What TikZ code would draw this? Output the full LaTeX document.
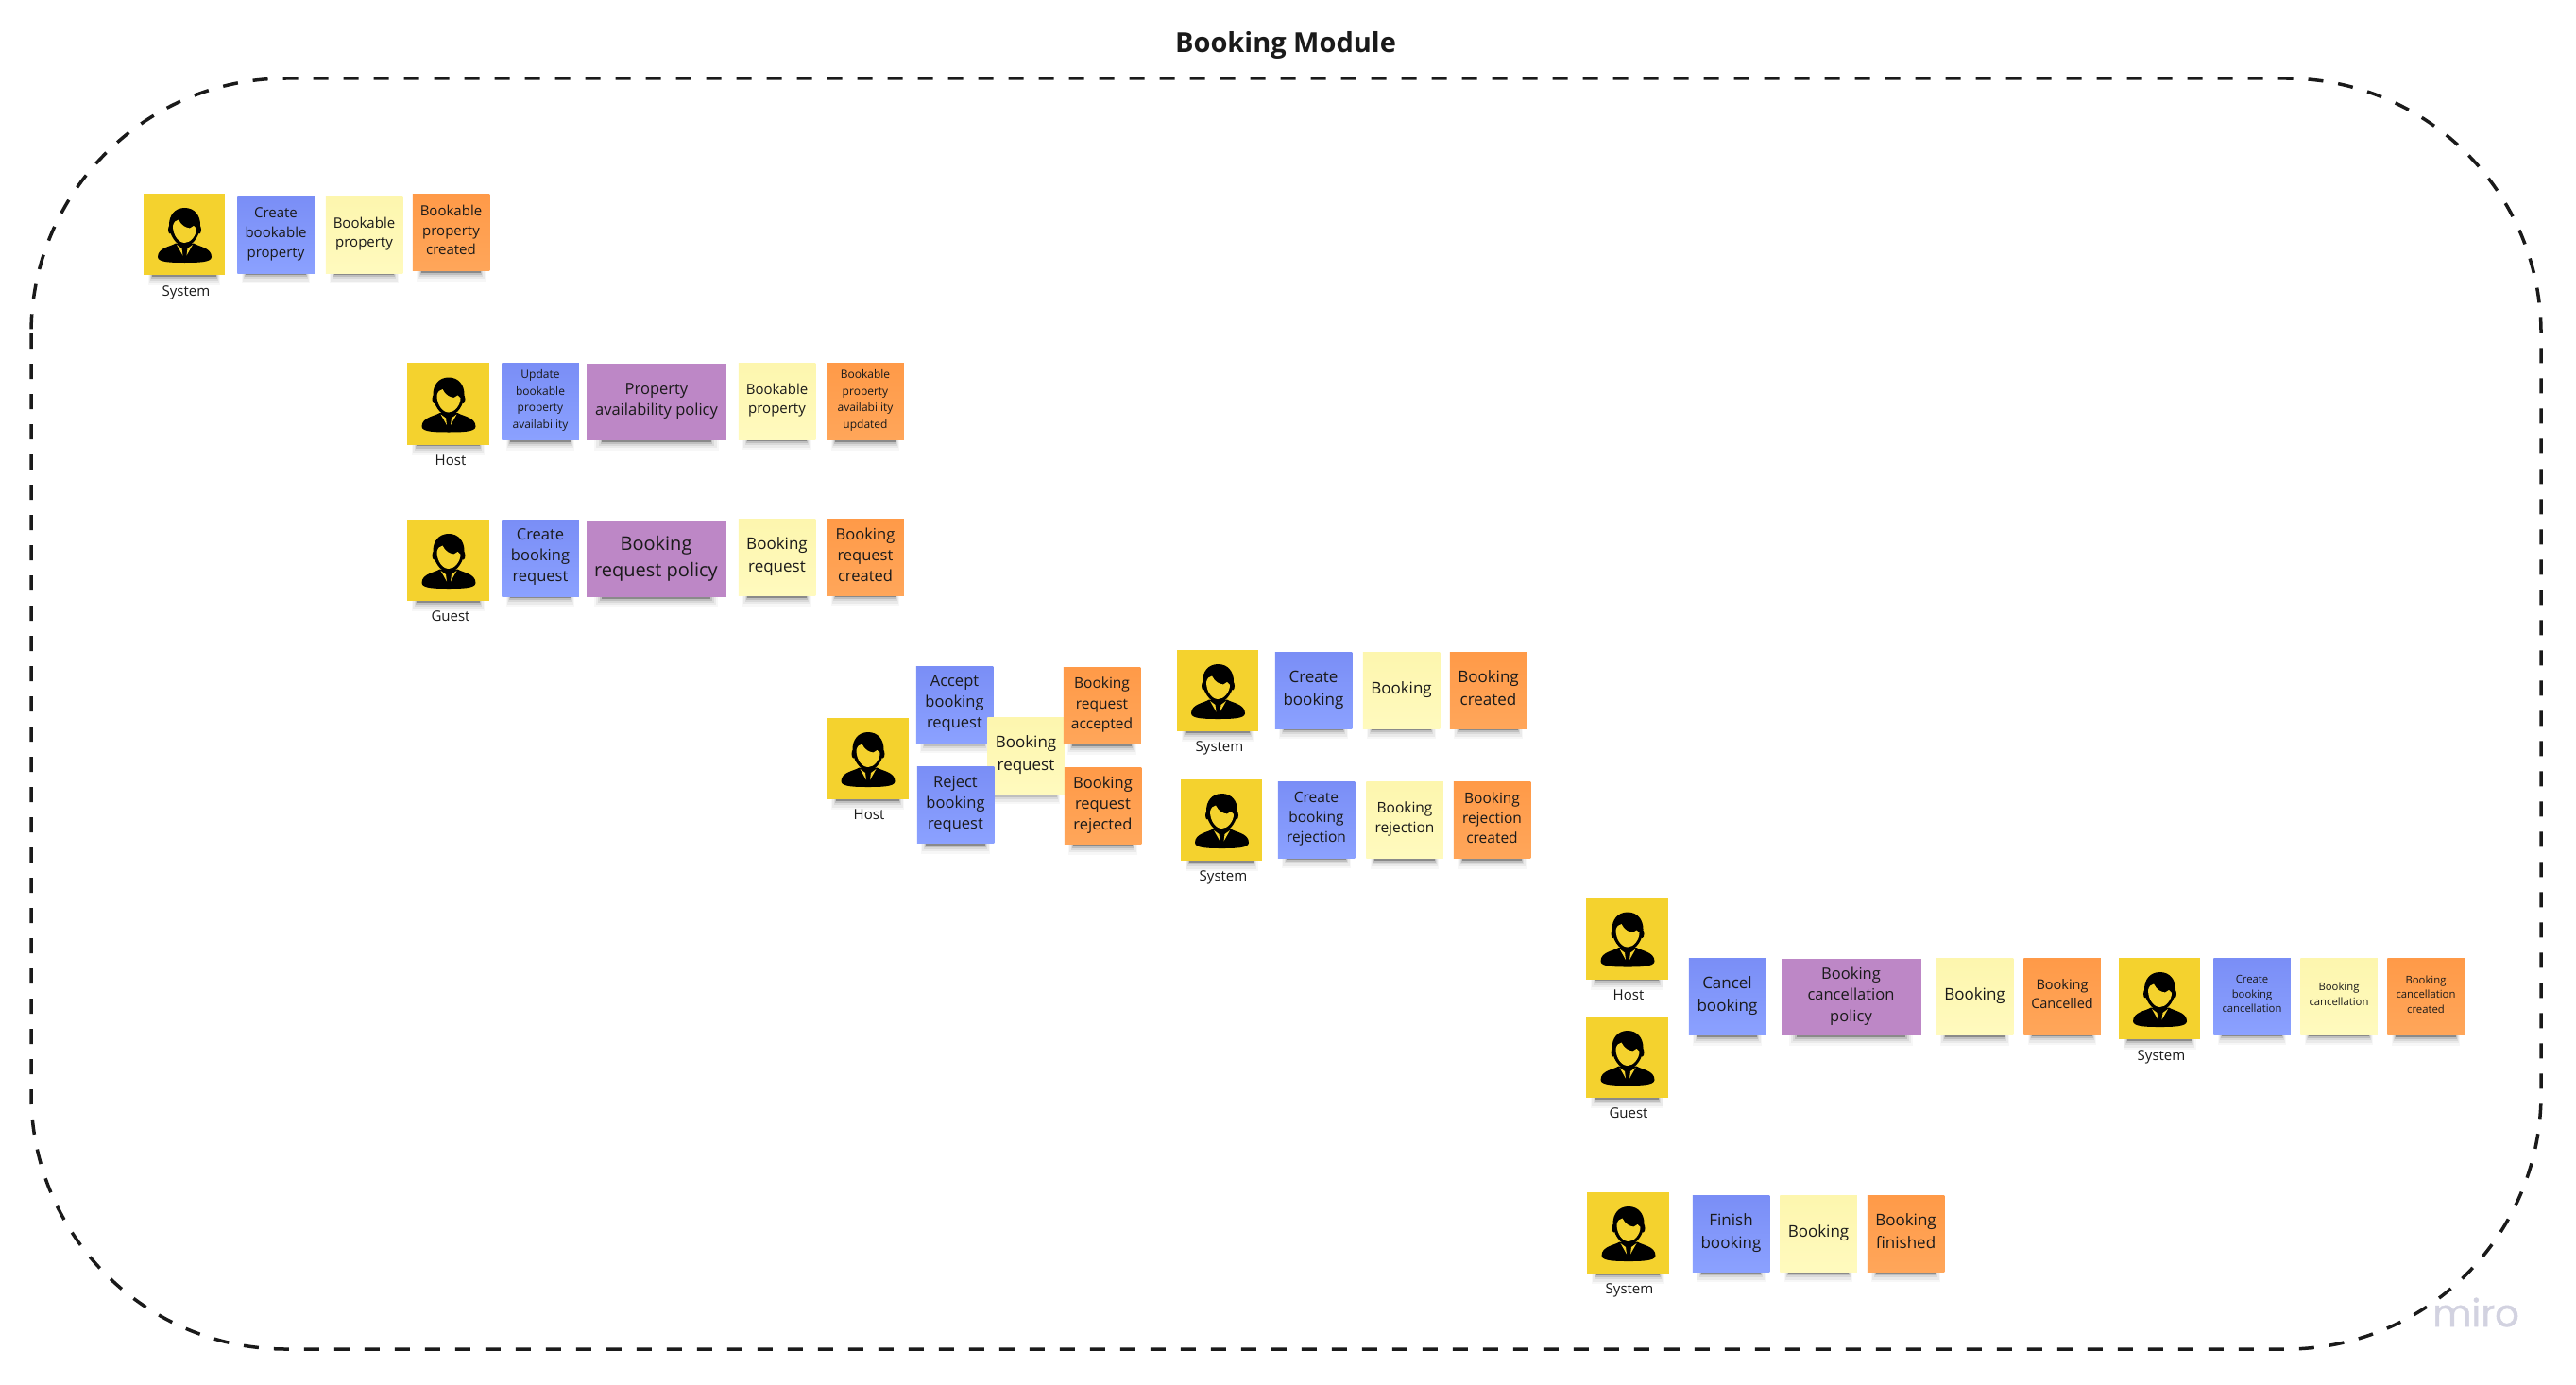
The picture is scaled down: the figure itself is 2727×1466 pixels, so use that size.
\documentclass[tikz,border=0pt]{standalone}
\usepackage{fontspec}
\setmainfont{Open Sans}
\newfontfamily\mirofont[FakeBold=1.2]{Poppins}
\usetikzlibrary{shadows}
\definecolor{actorcol}{HTML}{F4D22E}
\definecolor{cmdtop}{HTML}{7A8EF6}
\definecolor{cmdbot}{HTML}{8BA1FF}
\definecolor{aggtop}{HTML}{FDF6AE}
\definecolor{aggbot}{HTML}{FFFABE}
\definecolor{evttop}{HTML}{FF9A48}
\definecolor{evtbot}{HTML}{FFA65A}
\definecolor{polcol}{HTML}{BD87C6}
\definecolor{inkcol}{HTML}{1A1A1A}
\definecolor{mirocol}{HTML}{D2D2E0}
\tikzset{
  fs/.style 2 args={font=\fontsize{#1}{#2}\selectfont},
  note/.style={align=center,inner sep=0pt,text=inkcol,text depth=5pt,minimum width=81.5pt,minimum height=81pt,
    general shadow={fill=black,opacity=.03,shadow scale=.89,shadow yshift=-17.5pt},
    general shadow={fill=black,opacity=.05,shadow scale=.86,shadow yshift=-16.7pt},
    general shadow={fill=black,opacity=.07,shadow scale=.83,shadow yshift=-15.9pt},
    general shadow={fill=black,opacity=.12,shadow scale=.80,shadow yshift=-15.6pt},
    general shadow={fill=black,opacity=.28,shadow scale=.78,shadow yshift=-14.4pt}},
  actornote/.style={note,fill=actorcol,minimum width=86.5pt,minimum height=86.5pt},
  cmdnote/.style={note,top color=cmdtop,bottom color=cmdbot},
  aggnote/.style={note,top color=aggtop,bottom color=aggbot},
  evtnote/.style={note,top color=evttop,bottom color=evtbot},
  polnote/.style={note,fill=polcol,minimum width=148pt},
  actorlabel/.style={text=inkcol,fs={15}{20}},
  frameline/.style={line width=3.5pt,dash pattern=on 16pt off 16pt,color=inkcol},
  pics/actoricon/.style={code={
    \fill[black] (0.5,-28) .. controls (11,-28) and (17,-20) .. (17,-10)
      .. controls (17,0) and (10,12.5) .. (0.5,12.5) .. controls (-9,12.5) and (-16,0) .. (-16,-10)
      .. controls (-16,-20) and (-10,-28) .. (0.5,-28) -- cycle;
    \fill[black] (-15,-5) ellipse (2 and 4.5);
    \fill[black] (16,-5) ellipse (2 and 4.5);
    \fill[actorcol] (-12,-9) .. controls (-11,-13) and (-9,-15) .. (-6,-15.5)
      .. controls (-3,-9) and (2,-7) .. (6,-6.5) -- (10,-9) -- (13,-6)
      .. controls (13,1) and (7,9) .. (0.5,9) .. controls (-6,9) and (-12,1) .. (-12,-9) -- cycle;
    \fill[black] (-9,9.5) .. controls (-14,13) and (-28,14) .. (-28,24)
      .. controls (-28,30) and (-12,30) .. (0.5,30) .. controls (13,30) and (29,30) .. (29,24)
      .. controls (29,14) and (15,13) .. (10,9.5) -- cycle;
    \fill[actorcol] (-8,11) -- (-2.5,15) -- (-1.5,22.5) -- cycle;
    \fill[actorcol] (9,11) -- (3.5,15) -- (2.5,22.5) -- cycle;
  }}
}
\begin{document}
\begin{tikzpicture}[x=1pt,y=-1pt]
  \useasboundingbox (0,0) rectangle (2727,1466);
  \node (title) at (1361,48) [text=inkcol,font=\fontsize{29}{34}\selectfont\bfseries] {Booking Module};
  \draw[frameline,rounded corners=270pt] (33,83) rectangle (2690,1428);
  \node (miro) at (2621,1389) [text=mirocol,font=\fontsize{40}{44}\mirofont] {miro};

  % bookable property
  \node[actornote] (sys1) at (195,248) {}; \pic at (sys1) {actoricon};
  \node[actorlabel] (sys1lab) at (197,309.5) {System};
  \node[cmdnote,fs={15}{21}] (cmd1) at (292,248.5) {Create\\bookable\\property};
  \node[aggnote,fs={15}{20.5}] (agg1) at (385.5,248.5) {Bookable\\property};
  \node[evtnote,fs={15}{20.5}] (evt1) at (477.5,246) {Bookable\\property\\created};

  % availability
  \node[actornote] (host2) at (474.5,427.5) {}; \pic at (host2) {actoricon};
  \node[actorlabel] (host2lab) at (477,487) {Host};
  \node[cmdnote,fs={12}{17.5}] (cmd2) at (572,425) {Update\\bookable\\property\\availability};
  \node[polnote,fs={16.5}{22}] (pol2) at (695,425) {Property\\availability policy};
  \node[aggnote,fs={15}{20.5}] (agg2) at (822.5,424.5) {Bookable\\property};
  \node[evtnote,fs={12}{17.5}] (evt2) at (916,425) {Bookable\\property\\availability\\updated};

  % booking request
  \node[actornote] (guest3) at (474.5,593) {}; \pic at (guest3) {actoricon};
  \node[actorlabel] (guest3lab) at (477,652) {Guest};
  \node[cmdnote,fs={16.5}{22}] (cmd3) at (572,590.5) {Create\\booking\\request};
  \node[polnote,fs={20}{28}] (pol3) at (694.5,591) {Booking\\request policy};
  \node[aggnote,fs={17}{24}] (agg3) at (822.5,590) {Booking\\request};
  \node[evtnote,fs={16.5}{22}] (evt3) at (916,589.5) {Booking\\request\\created};

  % accept or reject
  \node[actornote] (host4) at (918.5,803) {}; \pic at (host4) {actoricon};
  \node[actorlabel] (host4lab) at (920,862) {Host};
  \node[cmdnote,fs={16.5}{22}] (accept4) at (1010.5,745.5) {Accept\\booking\\request};
  \node[aggnote,fs={17}{24}] (agg4) at (1086,799.5) {Booking\\request};
  \node[cmdnote,fs={16.5}{22}] (reject4) at (1011.5,852) {Reject\\booking\\request};
  \node[evtnote,fs={15.5}{21.5}] (accepted4) at (1166.5,747) {Booking\\request\\accepted};
  \node[evtnote,fs={16.5}{22}] (rejected4) at (1167.5,853) {Booking\\request\\rejected};

  % booking created
  \node[actornote] (sys5) at (1289,731) {}; \pic at (sys5) {actoricon};
  \node[actorlabel] (sys5lab) at (1291,792) {System};
  \node[cmdnote,fs={17}{24}] (cmd5) at (1390.5,730.5) {Create\\booking};
  \node[aggnote,fs={17}{24}] (agg5) at (1483.5,730.5) {Booking};
  \node[evtnote,fs={17}{24}] (evt5) at (1575.5,730.5) {Booking\\created};

  % booking rejection
  \node[actornote] (sys6) at (1293,868) {}; \pic at (sys6) {actoricon};
  \node[actorlabel] (sys6lab) at (1295,929) {System};
  \node[cmdnote,fs={15.5}{21}] (cmd6) at (1393.5,867.5) {Create\\booking\\rejection};
  \node[aggnote,fs={15.5}{21}] (agg6) at (1487,868) {Booking\\rejection};
  \node[evtnote,fs={15.5}{21}] (evt6) at (1579.5,868) {Booking\\rejection\\created};

  % cancellation
  \node[actornote] (host7) at (1722.5,993.5) {}; \pic at (host7) {actoricon};
  \node[actorlabel] (host7lab) at (1724,1053) {Host};
  \node[actornote] (guest7) at (1722.5,1119) {}; \pic at (guest7) {actoricon};
  \node[actorlabel] (guest7lab) at (1724,1178) {Guest};
  \node[cmdnote,fs={17}{24}] (cmd7) at (1828.5,1055) {Cancel\\booking};
  \node[polnote,fs={16.5}{22.5}] (pol7) at (1959.5,1055) {Booking\\cancellation\\policy};
  \node[aggnote,fs={17}{24}] (agg7) at (2090.5,1055) {Booking};
  \node[evtnote,fs={14.5}{20}] (evt7) at (2183,1054.5) {Booking\\Cancelled};
  \node[actornote] (sys7) at (2286,1057) {}; \pic at (sys7) {actoricon};
  \node[actorlabel] (sys7lab) at (2288,1119) {System};
  \node[cmdnote,fs={11.3}{15.5}] (cmd7b) at (2384,1054.5) {Create\\booking\\cancellation};
  \node[aggnote,fs={11.3}{15.5}] (agg7b) at (2476,1054.5) {Booking\\cancellation};
  \node[evtnote,fs={11.3}{15.5}] (evt7b) at (2568,1055) {Booking\\cancellation\\created};

  % booking finished
  \node[actornote] (sys8) at (1723.5,1305) {}; \pic at (sys8) {actoricon};
  \node[actorlabel] (sys8lab) at (1725,1366) {System};
  \node[cmdnote,fs={17}{23.5}] (cmd8) at (1832.5,1305.5) {Finish\\booking};
  \node[aggnote,fs={17}{24}] (agg8) at (1925,1305.5) {Booking};
  \node[evtnote,fs={17}{23.5}] (evt8) at (2017.5,1305.5) {Booking\\finished};
\end{tikzpicture}
\end{document}
